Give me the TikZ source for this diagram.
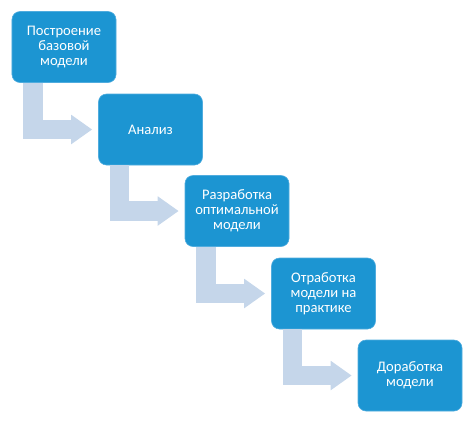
\documentclass[tikz,border=0pt]{standalone}
\usepackage{fontspec}
\setmainfont{Carlito}
\usepackage{tikz}
\usetikzlibrary{arrows.meta, positioning, calc}

\definecolor{stageblue}{RGB}{28, 149, 210}
\definecolor{stageedge}{RGB}{80, 172, 222}
\definecolor{flowgray}{RGB}{197, 214, 234}

\tikzset{
  stage/.style={draw=stageedge, line width=0.6bp, fill=stageblue, rounded corners=8bp,
    minimum width=104bp, minimum height=71bp, inner sep=2bp, align=center,
    text=white, font=\fontsize{14.6bp}{15bp}\selectfont},
  flowarrow/.style={draw=flowgray, line width=19.5bp, line join=miter,
    -{Triangle[length=21bp, width=28bp]}}
}

\begin{document}
\begin{tikzpicture}[x=1bp, y=-1bp]
  \useasboundingbox (0, 0) rectangle (474, 420);

  % Stages
  \node[stage] (base) at (64, 47) {Построение\\базовой\\модели};
  \node[stage] (anal) at (150.5, 129.5) {Анализ};
  \node[stage] (opt) at (237, 211) {Разработка\\оптимальной\\модели};
  \node[stage] (prac) at (323.5, 293.5) {Отработка\\модели на\\практике};
  \node[stage] (fin) at (410, 375.5) {Доработка\\модели};

  % Bent arrows between stages
  \draw[flowarrow] ([xshift=21.5bp]base.south west) |- ([xshift=-6bp]anal.west);
  \draw[flowarrow] ([xshift=21.5bp]anal.south west) |- ([xshift=-6bp]opt.west);
  \draw[flowarrow] ([xshift=21.5bp]opt.south west) |- ([xshift=-6bp]prac.west);
  \draw[flowarrow] ([xshift=21.5bp]prac.south west) |- ([xshift=-6bp]fin.west);
\end{tikzpicture}
\end{document}
